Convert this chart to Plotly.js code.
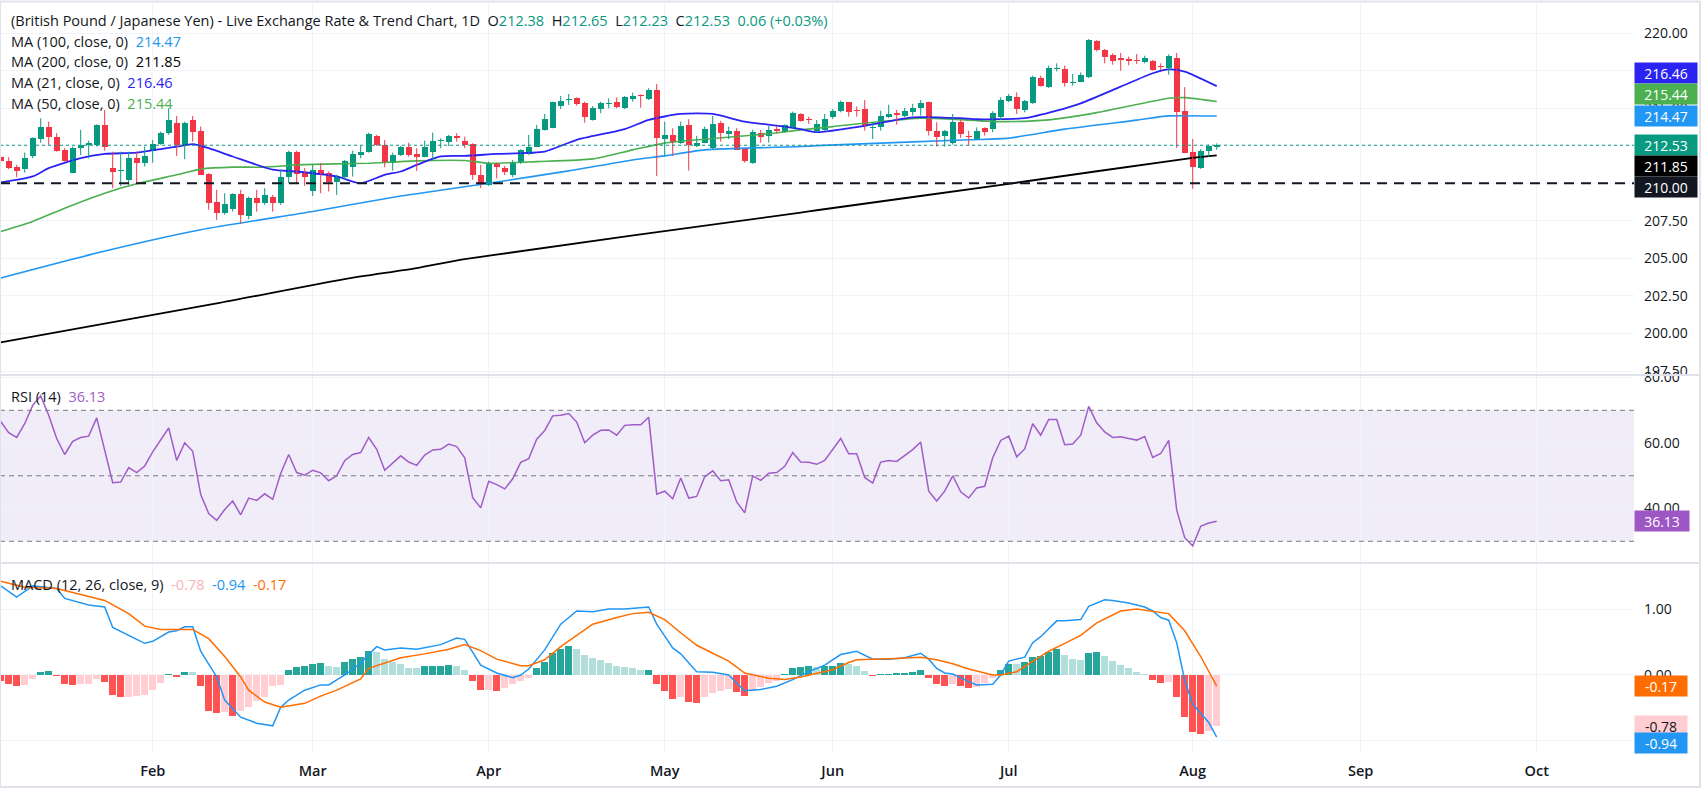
<!DOCTYPE html>
<html>
<head>
<meta charset="utf-8">
<script src="https://cdn.plot.ly/plotly-3.0.1.min.js"></script>
<style>
html,body{margin:0;padding:0;background:#fff;}
#chart{width:1702px;height:791px;}
</style>
</head>
<body>
<div id="chart"></div>
<script>
// ---------------- DATA ----------------
const instrument = "(British Pound / Japanese Yen) - Live Exchange Rate & Trend Chart, 1D";
const monthLabels = ["Feb","Mar","Apr","May","Jun","Jul","Aug","Sep","Oct"];
const monthStartBar = [19,39,61,83,104,126,149,170,192];
const supportLevel = 210.00;
const priceTicks = [197.5, 200, 202.5, 205, 207.5, 215, 220];
const rsiTicks = [40, 60, 80];
const macdTicks = [-1, 0, 1];

const openP = [211.75,211.49,211.06,210.93,211.82,212.95,213.72,213.06,212.22,210.71,
212.33,212.55,212.55,213.88,211.0,210.82,210.22,211.66,211.37,212.15,
212.62,213.33,214.04,212.55,214.21,213.5,210.6,208.74,208.0,208.27,
209.29,207.83,209.0,208.71,209.11,208.71,210.4,212.1,210.71,209.45,
210.89,210.67,210.11,210.44,211.06,211.9,212.1,213.15,212.55,211.33,
211.88,212.4,211.95,211.77,212.1,212.82,212.77,213.15,212.82,212.62,
210.55,209.89,211.29,211.04,210.55,211.33,211.95,212.44,213.55,213.66,
215.17,215.52,215.7,215.37,214.21,214.94,215.26,215.43,214.99,215.59,
215.83,215.61,216.21,212.95,213.22,212.66,213.88,212.48,212.7,212.33,
214.04,213.28,213.5,212.33,211.33,213.33,213.15,213.59,213.44,213.66,
214.61,214.24,213.5,213.55,214.43,214.83,215.39,214.85,214.94,213.68,
213.72,214.39,214.63,214.46,214.72,215.01,215.43,213.46,213.17,212.66,
214.1,213.13,212.95,213.68,213.61,214.43,215.45,215.76,214.88,215.32,
217.0,216.39,217.6,217.6,216.7,216.76,217.1,219.49,218.89,218.56,
218.29,218.27,218.2,218.05,218.16,217.83,217.67,218.34,214.79,212.06,
211.02,212.13,212.38];
const highP = [211.8,211.73,211.22,212.04,213.06,214.32,214.1,213.33,212.33,212.44,
213.55,212.84,213.92,214.88,212.1,212.1,212.1,212.1,212.44,212.88,
213.44,214.99,214.48,214.1,214.48,213.77,210.67,209.56,209.33,209.33,
209.56,209.11,209.56,209.67,209.22,210.89,212.17,212.17,211.0,211.22,
211.33,210.78,210.55,211.55,212.17,212.48,213.37,213.22,212.88,212.04,
212.48,212.7,212.33,212.84,213.37,212.99,213.22,213.33,213.1,212.66,
211.22,211.44,211.37,211.15,211.55,212.26,213.22,213.88,214.61,215.43,
215.81,215.94,215.72,215.43,215.14,215.43,215.65,215.72,215.81,216.03,
215.92,216.32,216.61,214.1,213.66,214.1,214.26,213.15,213.77,214.48,
214.15,213.77,213.66,212.33,213.55,213.55,213.81,213.81,213.92,214.77,
214.66,214.43,214.21,214.61,214.94,215.5,215.39,215.1,215.54,214.06,
214.83,215.23,214.88,215.01,215.28,215.54,215.43,214.06,213.55,214.61,
214.21,213.5,213.72,213.72,214.79,215.72,215.94,216.05,215.54,217.16,
217.16,217.83,217.98,217.83,217.27,217.38,219.6,219.53,218.94,218.65,
218.67,218.43,218.6,218.49,218.2,217.98,218.58,218.67,216.39,212.95,
212.28,212.57,212.65];
const lowP = [211.35,210.93,210.4,210.71,211.66,212.7,212.55,212.1,211.44,210.67,
211.88,211.66,212.44,212.17,209.67,209.82,209.89,210.0,211.11,211.37,
212.55,213.22,211.82,211.6,212.77,210.55,208.23,207.56,207.9,208.11,
207.3,207.6,208.11,208.56,208.11,208.56,210.0,210.0,209.82,209.16,
209.33,209.45,209.22,210.22,210.44,211.66,212.04,212.48,211.06,210.84,
211.82,211.77,210.82,211.73,211.6,212.33,212.48,212.77,212.33,210.22,
209.67,209.82,210.33,210.55,210.4,211.29,211.88,212.4,213.5,213.66,
214.94,215.21,215.17,214.03,214.17,214.66,214.99,214.99,214.94,215.43,
215.03,215.54,210.49,211.82,211.82,212.62,210.84,212.4,212.66,212.26,
212.77,212.93,212.22,211.37,211.29,212.7,212.7,213.33,213.37,213.61,
214.1,213.95,213.39,213.5,214.28,214.72,214.43,214.43,213.5,212.95,
213.5,214.35,213.9,214.39,214.5,214.5,213.17,212.44,212.44,212.57,
213.02,212.5,212.88,213.17,213.39,214.21,215.39,214.61,214.72,215.28,
216.43,216.34,217.45,216.43,216.5,216.72,217.0,218.78,217.98,217.89,
217.49,217.85,217.94,217.98,217.49,217.54,217.23,212.35,212.0,209.62,
210.95,211.77,212.23];
const closeP = [211.45,211.0,210.84,211.66,212.99,213.72,213.06,212.17,211.51,212.33,
212.55,212.66,213.88,212.44,210.78,210.86,211.66,211.37,211.82,212.62,
213.33,214.21,212.55,214.04,213.44,210.55,208.67,208.0,208.63,209.29,
207.9,209.0,208.71,209.22,208.71,210.4,212.1,210.62,210.44,210.89,
210.6,210.11,210.44,211.49,211.95,212.1,213.28,212.55,211.33,211.88,
212.4,211.88,211.77,212.4,212.82,212.88,213.15,212.99,212.55,210.55,
209.96,211.29,211.06,210.78,211.37,212.22,212.44,213.61,214.28,215.43,
215.48,215.59,215.28,214.43,214.99,215.37,215.37,215.06,215.76,215.81,
215.81,216.21,213.04,213.22,212.77,213.81,212.55,212.7,213.61,213.95,
213.37,213.5,212.22,211.51,213.44,213.1,213.55,213.5,213.88,214.7,
214.17,214.2,213.95,214.28,214.79,215.39,214.72,214.79,213.83,213.72,
214.5,214.61,214.59,214.83,215.01,215.32,213.46,213.06,213.46,214.1,
213.28,213.06,213.46,213.44,214.66,215.54,215.83,214.94,215.45,217.05,
216.5,217.67,217.67,216.65,216.76,217.23,219.56,218.87,218.38,218.16,
218.25,218.16,218.16,218.34,217.54,217.76,218.45,214.72,212.0,211.06,
212.17,212.47,212.53];

const ma21Bar = [0,4,6,10,13,17,22,24,26,29,34,37,42,45,48,50,52,55,58,62,68,72,78,81,85,89,93,98,100,102,108,114,120,122,128,132,135,140,144,146,148,152];
const ma21Val = [210.05,210.45,211.0,211.67,211.95,212.04,212.44,212.6,212.33,211.78,210.9,210.78,210.45,210.0,210.56,210.78,211.22,211.78,211.82,211.95,212.11,212.89,213.6,214.22,214.61,214.61,214.1,213.77,213.6,213.4,213.82,214.39,214.33,214.26,214.33,214.83,215.32,216.43,217.32,217.58,217.43,216.46];
const ma50Bar = [0,4,8,13,17,22,25,29,33,37,42,46,50,52,58,61,67,74,79,83,88,96,100,104,115,125,131,137,146,148,152];
const ma50Val = [206.79,207.46,208.34,209.34,209.96,210.56,210.94,211.07,211.07,211.22,211.29,211.33,211.44,211.49,211.51,211.33,211.44,211.62,212.22,212.67,212.93,213.29,213.55,213.77,214.33,214.1,214.22,214.7,215.66,215.7,215.44];
const ma100Bar = [0,12,25,39,50,52,61,71,79,83,88,100,102,121,126,133,142,146,152];
const ma100Val = [203.69,205.35,206.9,208.12,209.15,209.3,210.0,210.82,211.55,211.82,212.22,212.44,212.5,212.89,213.0,213.6,214.2,214.48,214.47];
const ma200Bar = [0,27,43,52,58,100,102,126,149,152];
const ma200Val = [199.4,202.0,203.62,204.35,204.95,208.05,208.2,209.96,211.69,211.85];

const rsi14 = [66.6,63.2,61.7,65.9,71.5,74.4,68.5,61.4,56.5,60.5,
61.7,62.1,67.7,57.3,47.9,48.1,52.5,51.0,53.0,57.3,
60.8,64.6,54.7,60.1,57.5,44.3,38.5,36.4,39.7,42.3,
38.1,43.2,42.5,44.5,42.8,50.7,56.5,51.0,50.2,51.7,
50.9,48.5,50.0,54.6,56.5,57.1,61.7,58.1,51.7,53.9,
56.1,54.2,53.2,56.3,57.9,58.1,59.7,58.9,55.5,43.3,
40.2,48.3,47.3,46.0,49.1,54.1,55.2,61.2,63.8,68.3,
68.5,69.0,66.4,60.1,62.4,63.9,64.0,62.4,65.4,65.6,
65.6,67.9,44.4,45.3,43.0,49.3,43.2,43.7,49.7,51.5,
48.5,48.8,42.0,38.7,50.0,48.6,50.8,51.0,52.9,57.1,
54.2,54.1,53.5,54.7,58.1,61.4,56.7,56.7,49.5,47.8,
54.2,54.7,54.4,56.1,58.0,60.3,45.3,42.3,45.3,50.0,
45.1,43.2,46.3,46.8,55.5,60.8,62.1,55.8,58.2,65.9,
62.4,67.2,67.2,59.5,59.7,62.4,71.2,66.2,63.4,61.7,
61.9,61.4,60.9,62.0,55.6,56.8,60.8,39.5,31.1,28.6,
34.6,35.6,36.13];

const macdBar = [0,2,4,7,8,11,13,14,17,18,19,21,22,23,24,25,27,28,30,32,34,35,36,38,40,41,43,45,46,47,48,50,52,55,57,58,60,62,64,65,66,68,70,72,74,76,78,81,82,84,85,87,89,91,93,95,97,99,101,103,105,107,109,111,113,115,116,117,118,119,121,122,124,125,126,128,129,130,132,133,135,136,138,139,141,143,144,145,146,147,148,149,151,152];
const macdVal = [1.35,1.18,1.35,1.31,1.16,1.06,1.03,0.72,0.54,0.48,0.51,0.65,0.67,0.73,0.73,0.36,-0.03,-0.38,-0.64,-0.73,-0.77,-0.49,-0.38,-0.23,-0.15,-0.15,0.0,0.18,0.31,0.43,0.38,0.41,0.39,0.46,0.56,0.54,0.15,0.03,-0.04,0.0,0.09,0.38,0.77,0.97,0.96,1.0,1.0,1.03,0.77,0.41,0.32,0.05,0.04,0.0,-0.24,-0.22,-0.17,-0.07,0.05,0.15,0.31,0.36,0.24,0.24,0.26,0.33,0.24,0.1,0.03,0.015,-0.1,-0.15,-0.14,0.0,0.21,0.27,0.49,0.58,0.82,0.82,0.84,1.04,1.14,1.13,1.09,1.03,0.97,0.87,0.83,0.49,-0.08,-0.44,-0.72,-0.94];
const signalBar = [0,3,7,11,13,16,18,20,22,24,26,28,30,31,33,35,38,40,42,45,46,48,50,53,56,58,60,62,65,66,68,70,72,74,77,79,81,83,85,87,89,91,93,96,98,100,104,106,107,110,112,115,117,119,121,124,125,127,129,131,133,135,137,140,142,146,148,150,152];
const signalVal = [1.42,1.33,1.31,1.19,1.13,0.93,0.74,0.69,0.69,0.69,0.55,0.28,-0.03,-0.23,-0.41,-0.49,-0.43,-0.32,-0.23,-0.06,0.10,0.18,0.26,0.32,0.39,0.46,0.37,0.24,0.14,0.14,0.23,0.43,0.60,0.77,0.87,0.93,0.95,0.84,0.64,0.45,0.33,0.21,0.03,-0.05,-0.07,-0.03,0.08,0.19,0.23,0.24,0.25,0.27,0.23,0.17,0.09,0.0,0.0,0.05,0.2,0.36,0.48,0.6,0.79,0.97,1.0,0.93,0.67,0.28,-0.17];
const histVal = [-0.09,-0.14,-0.17,-0.15,-0.06,0.05,0.055,-0.02,-0.14,-0.15,
-0.14,-0.13,-0.06,-0.10,-0.31,-0.34,-0.33,-0.32,-0.30,-0.23,
-0.12,0.02,-0.03,0.05,0.04,-0.17,-0.54,-0.58,-0.56,-0.62,
-0.54,-0.48,-0.40,-0.34,-0.16,-0.15,0.08,0.12,0.14,0.17,
0.175,0.14,0.12,0.19,0.24,0.28,0.36,0.35,0.24,0.20,
0.17,0.11,0.10,0.13,0.135,0.14,0.145,0.13,0.08,-0.09,
-0.23,-0.22,-0.24,-0.20,-0.13,-0.09,-0.04,0.10,0.20,0.34,
0.39,0.44,0.40,0.31,0.26,0.23,0.18,0.14,0.12,0.10,
0.07,0.08,-0.14,-0.25,-0.36,-0.34,-0.41,-0.43,-0.34,-0.27,
-0.24,-0.21,-0.26,-0.32,-0.24,-0.18,-0.12,-0.09,0.02,0.10,
0.12,0.13,0.12,0.13,0.14,0.18,0.17,0.14,0.06,-0.01,
0.015,0.02,0.025,0.035,0.05,0.08,-0.05,-0.13,-0.17,-0.14,
-0.17,-0.20,-0.18,-0.12,-0.05,0.08,0.17,0.16,0.19,0.28,
0.29,0.35,0.39,0.31,0.24,0.22,0.34,0.345,0.29,0.21,
0.15,0.10,0.05,0.02,-0.08,-0.12,-0.11,-0.33,-0.64,-0.86,
-0.89,-0.85,-0.78];

// ---------------- STYLE ----------------
const FONT = '"Open Sans", Roboto, "Liberation Sans", sans-serif';
const TXT = '#131722';
const UP = '#089981', DOWN = '#f23645';
const C21 = '#2b23f2', C50 = '#4caf50', C100 = '#2196f3', C200 = '#000000';
const CRSI = '#a05cc8', CMACD = '#2196f3', CSIG = '#ff6d00';
const GRID = '#f0f3fa', SEP = '#e0e3eb';

const W = 1702, H = 791, PLOT_R = 1634, TOP = 3, BOT = 752;
const px = x => x / PLOT_R;
const py = y => (BOT - y) / (BOT - TOP);

const N = closeP.length;
const bars = closeP.map((_, i) => i);

// candles: wicks + bodies
const wUp = {x: [], y: []}, wDn = {x: [], y: []};
const bodyBase = [], bodyLen = [], bodyCol = [];
for (let i = 0; i < N; i++) {
  const up = closeP[i] >= openP[i];
  const w = up ? wUp : wDn;
  w.x.push(i, i, null); w.y.push(lowP[i], highP[i], null);
  const lo = Math.min(openP[i], closeP[i]), d = Math.abs(closeP[i] - openP[i]);
  const minH = 0.07;
  bodyBase.push(d < minH ? lo + d / 2 - minH / 2 : lo);
  bodyLen.push(Math.max(d, minH));
  bodyCol.push(up ? UP : DOWN);
}
const histCol = histVal.map((h, i) => {
  const prev = i > 0 ? histVal[i - 1] : h;
  if (h >= 0) return h >= prev ? '#26a69a' : '#b2dfdb';
  return h < prev || i === 0 ? '#ff5252' : '#ffcdd2';
});

const lineTr = (x, y, color, width, yaxis, shape) => ({
  type: 'scatter', mode: 'lines', x, y, xaxis: 'x', yaxis,
  line: {color, width, shape: shape || 'linear', smoothing: 0.6}, hoverinfo: 'skip'
});

const traces = [
  lineTr(ma200Bar, ma200Val, C200, 1.8, 'y', 'spline'),
  lineTr(ma100Bar, ma100Val, C100, 1.6, 'y', 'spline'),
  lineTr(ma50Bar, ma50Val, C50, 1.6, 'y', 'spline'),
  lineTr(ma21Bar, ma21Val, C21, 1.8, 'y', 'spline'),
  {type: 'scatter', mode: 'lines', x: wUp.x, y: wUp.y, yaxis: 'y', line: {color: UP, width: 1}, hoverinfo: 'skip', connectgaps: false},
  {type: 'scatter', mode: 'lines', x: wDn.x, y: wDn.y, yaxis: 'y', line: {color: DOWN, width: 1}, hoverinfo: 'skip', connectgaps: false},
  {type: 'bar', x: bars, y: bodyLen, base: bodyBase, yaxis: 'y', width: 0.72, marker: {color: bodyCol, line: {width: 0}}, hoverinfo: 'skip'},
  lineTr(bars, rsi14, CRSI, 1.5, 'y2'),
  {type: 'bar', x: bars, y: histVal, yaxis: 'y3', width: 0.86, marker: {color: histCol, line: {width: 0}}, hoverinfo: 'skip'},
  lineTr(macdBar, macdVal, CMACD, 1.5, 'y3'),
  lineTr(signalBar, signalVal, CSIG, 1.5, 'y3')
];

const last = a => a[a.length - 1];
const f2 = v => v.toFixed(2);
const lastClose = last(closeP), prevClose = closeP[N - 2];
const chg = lastClose - prevClose, pct = chg / prevClose * 100;
const g = s => `<span style="color:${UP}">${s}</span>`;
const sp = '&nbsp;&nbsp;';

const textAnn = (x, y, text) => ({
  xref: 'paper', yref: 'paper', x: px(x), y: py(y), xanchor: 'left', yanchor: 'middle',
  text, showarrow: false, font: {family: FONT, size: 14.5, color: TXT}
});
const col = (c, s) => `<span style="color:${c}">${s}</span>`;

const annotations = [
  textAnn(9, 20, `${instrument}${sp}O${g(f2(openP[N-1]))}${sp}H${g(f2(highP[N-1]))}${sp}L${g(f2(lowP[N-1]))}${sp}C${g(f2(lastClose))}${sp}${g(f2(chg) + ' (' + (pct >= 0 ? '+' : '') + f2(pct) + '%)')}`),
  textAnn(9, 41, `MA (100, close, 0)${sp}${col(C100, f2(last(ma100Val)))}`),
  textAnn(9, 62, `MA (200, close, 0)${sp}${col(C200, f2(last(ma200Val)))}`),
  textAnn(9, 83, `MA (21, close, 0)${sp}${col(C21, f2(last(ma21Val)))}`),
  textAnn(9, 104, `MA (50, close, 0)${sp}${col(C50, f2(last(ma50Val)))}`),
  textAnn(9, 396, `RSI (14)${sp}${col(CRSI, f2(last(rsi14)))}`),
  textAnn(9, 584, `MACD (12, 26, close, 9)${sp}${col('#f7b4ba', f2(last(histVal)))}${sp}${col(CMACD, f2(last(macdVal)))}${sp}${col(CSIG, f2(last(signalVal)))}`)
];

const tag = (yref, y, text, bg, fg, shift, w) => ({
  xref: 'paper', yref, x: 1, y, xanchor: 'left', yanchor: 'middle', yshift: shift,
  text, showarrow: false, bgcolor: bg, borderpad: 3, width: w, height: 14, align: 'center',
  font: {family: FONT, size: 14, color: fg}
});
annotations.push(
  tag('y', last(ma21Val), f2(last(ma21Val)), C21, '#fff', 13, 56),
  tag('y', last(ma50Val), f2(last(ma50Val)), C50, '#fff', 7.5, 56),
  tag('y', last(ma100Val), f2(last(ma100Val)), C100, '#fff', 0, 56),
  tag('y', lastClose, f2(lastClose), UP, '#fff', 0, 56),
  tag('y', last(ma200Val), f2(last(ma200Val)), '#000000', '#fff', -10.5, 56),
  tag('y', supportLevel, f2(supportLevel), '#131722', '#fff', -3.8, 56),
  tag('y2', last(rsi14), f2(last(rsi14)), '#9c57c4', '#fff', 0, 48),
  tag('y3', last(signalVal), f2(last(signalVal)), CSIG, '#fff', 0, 46),
  tag('y3', last(histVal), f2(last(histVal)), '#ffcdd2', TXT, 0, 46),
  tag('y3', last(macdVal), f2(last(macdVal)), CMACD, '#fff', -6, 46)
);

const hl = (yref, y, color, dash, width) => ({
  type: 'line', xref: 'paper', yref, x0: 0, x1: 1, y0: y, y1: y,
  line: {color, dash, width}, layer: 'above'
});
const shapes = [
  {type: 'rect', xref: 'paper', yref: 'y2', x0: 0, x1: 1, y0: 30, y1: 70, fillcolor: 'rgba(126,87,194,0.11)', line: {width: 0}, layer: 'between'},
  hl('y2', 70, '#787b86', '5px,4px', 1),
  hl('y2', 50, '#787b86', '5px,4px', 1),
  hl('y2', 30, '#787b86', '5px,4px', 1),
  hl('y', lastClose, UP, 'dot', 1),
  hl('y', supportLevel, '#131722', '10px,7px', 2),
  {type: 'line', xref: 'paper', yref: 'paper', x0: 0, x1: px(1700), y0: py(375), y1: py(375), line: {color: SEP, width: 2}},
  {type: 'line', xref: 'paper', yref: 'paper', x0: 0, x1: px(1700), y0: py(563), y1: py(563), line: {color: SEP, width: 2}},
  {type: 'rect', xref: 'paper', yref: 'paper', x0: px(0), x1: px(1700), y0: py(787), y1: py(1.5), line: {color: SEP, width: 2}, fillcolor: 'rgba(0,0,0,0)'}
];

const yBase = {
  side: 'right', anchor: 'x', showgrid: true, gridcolor: GRID, gridwidth: 1, zeroline: false,
  showline: false, ticks: '', tickformat: '.2f', ticklabelstandoff: 9,
  tickfont: {family: FONT, size: 14, color: TXT}, fixedrange: true
};

const layout = {
  width: W, height: H,
  margin: {l: 0, r: W - PLOT_R, t: TOP, b: H - BOT},
  paper_bgcolor: '#ffffff', plot_bgcolor: '#ffffff',
  showlegend: false, barmode: 'overlay', bargap: 0,
  xaxis: {
    anchor: 'y3', range: [-0.0875, 204.16], tickmode: 'array',
    tickvals: monthStartBar, ticktext: monthLabels,
    showgrid: true, gridcolor: GRID, zeroline: false, showline: false, ticks: '',
    ticklabelstandoff: 8,
    tickfont: {family: FONT, size: 14.5, color: TXT, weight: 600}, fixedrange: true
  },
  yaxis: Object.assign({}, yBase, {domain: [py(375), 1], range: [197.234, 221.997], tickmode: 'array', tickvals: priceTicks}),
  yaxis2: Object.assign({}, yBase, {domain: [py(563), py(375)], range: [23.37, 80.78], tickmode: 'array', tickvals: rsiTicks}),
  yaxis3: Object.assign({}, yBase, {domain: [0, py(563)], range: [-1.167, 1.697], tickmode: 'array', tickvals: macdTicks}),
  annotations, shapes
};
// horizontal grid at every 2.5 on the price pane (incl. levels whose labels are hidden behind tags)
[210, 212.5, 217.5].forEach(v => shapes.push({type: 'line', xref: 'paper', yref: 'y', x0: 0, x1: 1, y0: v, y1: v, line: {color: GRID, width: 1}, layer: 'below'}));

Plotly.newPlot('chart', traces, layout, {staticPlot: true, displayModeBar: false});
</script>
</body>
</html>
